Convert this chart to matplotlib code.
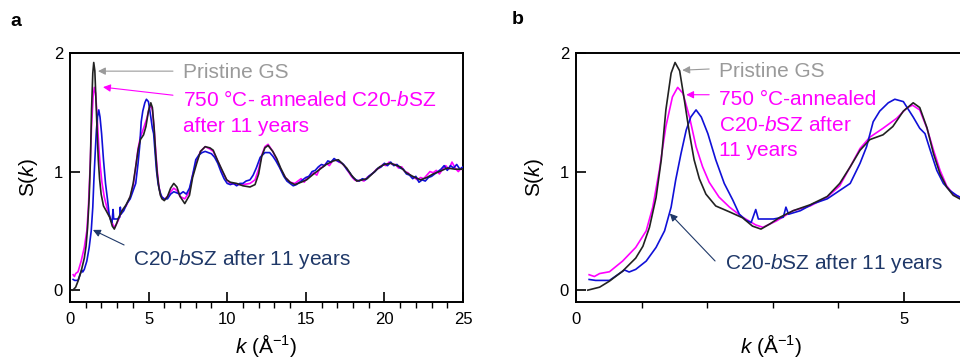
import matplotlib
matplotlib.use("Agg")
import matplotlib.pyplot as plt
from matplotlib.ticker import MultipleLocator

plt.rcParams['font.family'] = ['Liberation Sans', 'DejaVu Sans']
plt.rcParams['mathtext.fontset'] = 'custom'
plt.rcParams['mathtext.rm'] = 'Liberation Sans'
plt.rcParams['mathtext.it'] = 'Liberation Sans:italic'

# Pristine GS (black)
k_gs = [0.18, 0.36, 0.51, 0.71, 0.91, 1.02, 1.12, 1.22, 1.30, 1.37, 1.45, 1.51, 1.58, 1.65,
        1.73, 1.80, 1.88, 1.98, 2.13, 2.34, 2.54, 2.69, 2.82, 2.96, 3.11, 3.31, 3.57, 3.83,
        4.02, 4.18, 4.33, 4.48, 4.68, 4.83, 4.99, 5.14, 5.24, 5.35, 5.45, 5.55, 5.65, 5.75,
        5.85, 6.0, 6.2, 6.4, 6.6, 6.8, 7.0, 7.3, 7.6, 7.8, 8.06, 8.3, 8.6, 8.9, 9.11, 9.4,
        9.65, 9.97, 10.2, 10.6, 11.0, 11.45, 11.77, 12.0, 12.2, 12.4, 12.6, 12.9, 13.15, 13.4,
        13.7, 14.0, 14.3, 14.7, 15.05, 15.5, 15.9, 16.3, 16.75, 17.07, 17.3, 17.6, 17.9, 18.24,
        18.6, 18.9, 19.3, 19.7, 20.0, 20.4, 21.0, 21.4, 21.8, 22.3, 22.7, 23.1, 23.5, 24.0,
        24.5, 25.0]
s_gs = [0.00, 0.025, 0.076, 0.16, 0.27, 0.37, 0.53, 0.78, 1.10, 1.52, 1.83, 1.92, 1.85, 1.61,
        1.32, 1.10, 0.94, 0.81, 0.71, 0.66, 0.61, 0.54, 0.515, 0.56, 0.615, 0.67, 0.72, 0.79,
        0.90, 1.04, 1.18, 1.27, 1.31, 1.38, 1.51, 1.58, 1.54, 1.37, 1.15, 0.98, 0.87, 0.80,
        0.77, 0.755, 0.79, 0.86, 0.90, 0.87, 0.79, 0.73, 0.80, 0.95, 1.07, 1.17, 1.21, 1.20, 1.18, 1.09,
        1.02, 0.93, 0.91, 0.90, 0.88, 0.87, 0.89, 0.98, 1.13, 1.20, 1.22, 1.17, 1.11, 1.03,
        0.95, 0.91, 0.89, 0.91, 0.93, 0.98, 1.02, 1.06, 1.09, 1.10, 1.07, 1.03, 0.97, 0.92,
        0.93, 0.94, 0.99, 1.04, 1.06, 1.07, 1.04, 0.99, 0.96, 0.93, 0.95, 0.98, 1.00, 1.03,
        1.02, 1.02]

# 750 C-annealed C20-bSZ after 11 years (magenta)
k_ann = [0.20, 0.28, 0.36, 0.51, 0.71, 0.91, 1.07, 1.17, 1.27, 1.37, 1.47, 1.55, 1.63, 1.73,
         1.83, 1.93, 2.03, 2.18, 2.34, 2.54, 2.74, 2.85, 3.06, 3.31, 3.57, 3.83, 4.02, 4.18,
         4.33, 4.48, 4.68, 4.89, 5.04, 5.13, 5.24, 5.35, 5.45, 5.55, 5.65, 5.75, 5.85, 6.0,
         6.2, 6.4, 6.6, 6.8, 7.0, 7.3, 7.6, 7.8, 8.06, 8.3, 8.6, 8.9, 9.11, 9.4, 9.65, 9.97,
         10.2, 10.6, 11.0, 11.45, 11.77, 12.0, 12.2, 12.4, 12.6, 12.9, 13.15, 13.4, 13.7, 14.0,
         14.3, 14.5, 14.7, 14.9, 15.1, 15.3, 15.5, 15.7, 15.9, 16.1, 16.3, 16.5, 16.7, 16.9,
         17.1, 17.3, 17.5, 17.7, 17.9, 18.1, 18.3, 18.5, 18.7, 18.9, 19.1, 19.3, 19.5, 19.7,
         19.9, 20.1, 20.3, 20.5, 20.7, 20.9, 21.1, 21.3, 21.5, 21.7, 21.9, 22.1, 22.3, 22.5,
         22.7, 22.9, 23.1, 23.3, 23.5, 23.7, 23.9, 24.1, 24.3, 24.5, 24.7, 24.9, 25.0]
s_ann = [0.13, 0.115, 0.14, 0.155, 0.245, 0.36, 0.50, 0.70, 1.01, 1.38, 1.63, 1.71, 1.66, 1.46,
         1.21, 1.04, 0.91, 0.785, 0.70, 0.615, 0.55, 0.53, 0.585, 0.67, 0.71, 0.785, 0.88, 1.04,
         1.195, 1.29, 1.365, 1.45, 1.535, 1.56, 1.52, 1.365, 1.18, 1.01, 0.88, 0.81, 0.785, 0.765,
         0.79, 0.83, 0.86, 0.84, 0.79, 0.77, 0.83, 0.97, 1.09, 1.17, 1.21, 1.19, 1.17, 1.09, 1.01, 0.93,
         0.90, 0.89, 0.89, 0.90, 0.93, 1.02, 1.14, 1.21, 1.23, 1.17, 1.10, 1.02, 0.95, 0.91,
         0.90, 0.92, 0.94, 0.91, 0.95, 0.97, 0.99, 0.97, 1.03, 1.04, 1.07, 1.05, 1.09, 1.10,
         1.08, 1.07, 1.04, 1.00, 0.96, 0.93, 0.92, 0.93, 0.92, 0.95, 0.97, 0.99, 1.02, 1.03,
         1.06, 1.05, 1.08, 1.06, 1.06, 1.03, 1.04, 1.00, 0.99, 0.96, 0.95, 0.93, 0.95, 0.94,
         0.97, 1.00, 0.99, 1.01, 0.98, 1.02, 1.05, 1.02, 1.08, 1.03, 1.00, 1.03, 1.01]

# C20-bSZ after 11 years (blue)
k_old = [0.20, 0.30, 0.51, 0.66, 0.74, 0.81, 0.91, 1.07, 1.22, 1.35, 1.45, 1.52, 1.60, 1.68,
         1.75, 1.83, 1.91, 2.01, 2.13, 2.26, 2.39, 2.49, 2.59, 2.67, 2.74, 2.78, 2.90, 3.01,
         3.16, 3.20, 3.24, 3.42, 3.62, 3.83, 4.02, 4.18, 4.33, 4.43, 4.53, 4.63, 4.76, 4.86,
         4.99, 5.14, 5.24, 5.32, 5.40, 5.50, 5.60, 5.70, 5.80, 5.85, 6.0, 6.2, 6.4, 6.6, 6.8,
         7.0, 7.2, 7.4, 7.6, 7.8, 8.0, 8.2, 8.4, 8.6, 8.8, 9.0, 9.2, 9.4, 9.6, 9.8, 10.0,
         10.2, 10.4, 10.6, 10.8, 11.0, 11.2, 11.45, 11.65, 11.85, 12.1, 12.4, 12.7, 12.9, 13.1,
         13.35, 13.6, 13.8, 14.0, 14.2, 14.4, 14.6, 14.8, 15.0, 15.2, 15.4, 15.6, 15.8, 16.0,
         16.2, 16.4, 16.6, 16.8, 17.0, 17.2, 17.4, 17.6, 17.8, 18.0, 18.2, 18.4, 18.6, 18.8,
         19.0, 19.2, 19.4, 19.6, 19.8, 20.0, 20.2, 20.4, 20.6, 20.8, 21.0, 21.2, 21.4, 21.6,
         21.8, 22.0, 22.2, 22.4, 22.6, 22.8, 23.0, 23.2, 23.4, 23.6, 23.8, 24.0, 24.2, 24.4,
         24.6, 24.8, 25.0]
s_old = [0.09, 0.082, 0.082, 0.14, 0.17, 0.153, 0.175, 0.245, 0.36, 0.50, 0.70, 0.93, 1.15, 1.35,
         1.46, 1.52, 1.46, 1.32, 1.10, 0.90, 0.76, 0.64, 0.59, 0.57, 0.68, 0.60, 0.60, 0.60,
         0.615, 0.70, 0.64, 0.67, 0.73, 0.77, 0.84, 0.90, 1.07, 1.21, 1.42, 1.51, 1.58, 1.61,
         1.59, 1.46, 1.365, 1.32, 1.18, 1.01, 0.90, 0.84, 0.80, 0.785, 0.77, 0.77, 0.81, 0.83, 0.82,
         0.81, 0.83, 0.81, 0.86, 0.97, 1.10, 1.14, 1.16, 1.17, 1.16, 1.15, 1.12, 1.07, 1.00, 0.94, 0.90,
         0.89, 0.90, 0.88, 0.90, 0.90, 0.92, 0.93, 0.97, 1.03, 1.12, 1.16, 1.16, 1.13, 1.09,
         1.03, 0.96, 0.92, 0.90, 0.88, 0.89, 0.91, 0.93, 0.95, 0.96, 1.00, 1.01, 1.04, 1.06,
         1.05, 1.09, 1.08, 1.11, 1.09, 1.08, 1.06, 1.02, 0.99, 0.95, 0.93, 0.92, 0.94, 0.93,
         0.96, 0.98, 1.00, 1.03, 1.04, 1.07, 1.05, 1.08, 1.05, 1.06, 1.03, 1.02, 0.98, 0.97,
         0.94, 0.96, 0.91, 0.93, 0.92, 0.95, 0.96, 0.98, 1.00, 1.02, 1.05, 1.01, 1.05, 1.03,
         1.06, 1.02, 1.04]

c_gs = '#222222'
c_ann = '#ff00ff'
c_old = '#1010d8'
c_gray = '#9a9a9a'
c_navy = '#1f3868'

fig = plt.figure(figsize=(9.6, 3.61), dpi=100)
W, H = 960, 361
ax_a = fig.add_axes([70 / W, 1 - 302 / H, (463 - 70) / W, (302 - 53) / H])
ax_b = fig.add_axes([576 / W, 1 - 302 / H, (966 - 576) / W, (302 - 53) / H])


def draw(ax):
    ax.plot(k_ann, s_ann, color=c_ann, lw=1.2, zorder=2)
    ax.plot(k_old, s_old, color=c_old, lw=1.2, zorder=3)
    ax.plot(k_gs, s_gs, color=c_gs, lw=1.2, zorder=4)
    ax.set_ylim(-0.1, 2.0)
    ax.set_yticks([0, 1, 2])
    for sp in ax.spines.values():
        sp.set_linewidth(1.4)
    ax.tick_params(direction='in', width=1.2, labelsize=12, top=False, right=False)
    ax.tick_params(axis='x', which='major', length=7.5, pad=7)
    ax.tick_params(axis='x', which='minor', length=4.5, width=1.0)
    ax.tick_params(axis='y', which='major', length=7.5, pad=5)
    ax.set_xlabel(r'$k$ (Å$^{-1}$)', fontsize=15, labelpad=4)
    ax.set_ylabel(r'S($k$)', fontsize=15, labelpad=10)


def arrow(ax, xy, xytext, color):
    ax.annotate('', xy=xy, xytext=xytext,
                arrowprops=dict(arrowstyle='-|>', color=color, lw=0.8,
                                mutation_scale=11, shrinkA=0, shrinkB=0))


# panel a
draw(ax_a)
ax_a.set_xlim(0, 25)
ax_a.xaxis.set_major_locator(MultipleLocator(5))
ax_a.xaxis.set_minor_locator(MultipleLocator(1))
ax_a.text(7.19, 1.788, 'Pristine GS', color=c_gray, fontsize=15, va='baseline')
ax_a.text(7.19, 1.553, r'750 °C- annealed C20-$b$SZ', color=c_ann, fontsize=15, va='baseline')
ax_a.text(7.19, 1.333, 'after 11 years', color=c_ann, fontsize=15, va='baseline')
ax_a.text(4.01, 0.212, r'C20-$b$SZ after 11 years', color=c_navy, fontsize=15, va='baseline')
arrow(ax_a, (1.78, 1.847), (6.55, 1.847), c_gray)
arrow(ax_a, (2.10, 1.712), (6.55, 1.644), c_ann)
arrow(ax_a, (1.46, 0.508), (3.44, 0.381), c_navy)

# panel b
draw(ax_b)
ax_b.set_xlim(0, (966 - 576) / 65.6)
ax_b.spines['right'].set_visible(False)
ax_b.set_xticks([0, 5])
ax_b.xaxis.set_minor_locator(MultipleLocator(1))
ax_b.text(2.18, 1.799, 'Pristine GS', color=c_gray, fontsize=15, va='baseline')
ax_b.text(2.18, 1.563, '750 °C-annealed', color=c_ann, fontsize=15, va='baseline')
ax_b.text(2.18, 1.345, r'C20-$b$SZ after', color=c_ann, fontsize=15, va='baseline')
ax_b.text(2.18, 1.13, '11 years', color=c_ann, fontsize=15, va='baseline')
ax_b.text(2.27, 0.176, r'C20-$b$SZ after 11 years', color=c_navy, fontsize=15, va='baseline')
arrow(ax_b, (1.62, 1.855), (2.03, 1.865), c_gray)
arrow(ax_b, (1.68, 1.648), (2.03, 1.648), c_ann)
arrow(ax_b, (1.43, 0.646), (2.12, 0.246), c_navy)

fig.text(10 / W, 1 - 22 / H, 'a', fontsize=14, fontweight='bold', va='center')
fig.text(512 / W, 1 - 20 / H, 'b', fontsize=14, fontweight='bold', va='center')

fig.savefig('out.png', dpi=100)
